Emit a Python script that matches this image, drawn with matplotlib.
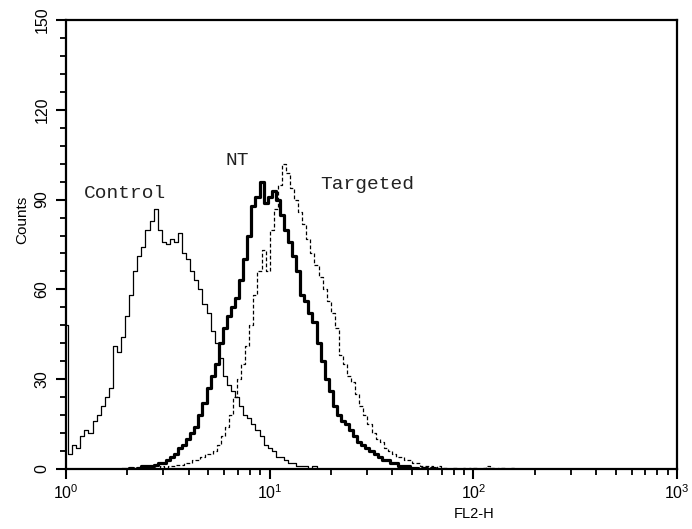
#!/usr/bin/env python3
"""
FACS-Histogramm: Control / NT / Targeted auf FL2-H (log).
"""

import numpy as np
import matplotlib
matplotlib.use('Agg')
import matplotlib.pyplot as plt
from matplotlib.ticker import LogLocator, MultipleLocator

# Kanalraster (log10 von FL2-H), Schrittweite 0.02 Dekaden
channel_step = 0.02

# Control: ab log10 = 0.00
control_start = 0.00
control_counts = [48, 5, 8, 7, 11, 13, 12, 16, 18, 21,
                  24, 27, 41, 39, 44, 51, 58, 66, 71, 74,
                  80, 83, 87, 80, 76, 75, 77, 76, 79, 72,
                  70, 66, 63, 60, 55, 52, 46, 42, 37, 31,
                  28, 26, 24, 21, 18, 17, 15, 13, 11, 8,
                  7, 6, 4, 4, 3, 2, 2, 1, 1, 1,
                  0, 1, 0]

# NT: ab log10 = 0.28
nt_start = 0.28
nt_counts = [0, 0, 0.5, 0, 0.5, 1, 1, 1, 1.5, 2,
             2, 3, 4, 5, 7, 8, 10, 12, 14, 18,
             22, 27, 31, 35, 42, 47, 51, 54, 57, 63,
             70, 78, 88, 91, 96, 89, 91, 93, 90, 85,
             80, 76, 71, 66, 58, 56, 52, 49, 42, 36,
             30, 26, 21, 18, 16, 15, 13, 11, 9, 8,
             7, 6, 5, 4, 3, 3, 2, 2, 1, 1,
             1, 0.5, 0.5, 0, 0.5, 0, 0.5, 0]

# Targeted: ab log10 = 0.41
targeted_start = 0.41
targeted_counts = [0, 0.5, 0, 1, 0.5, 1, 1, 1.5, 1.5, 2,
                   2, 3, 3, 4, 5, 5, 6, 8, 11, 14,
                   18, 24, 30, 35, 41, 48, 58, 66, 73, 66,
                   80, 87, 95, 102, 99, 94, 90, 86, 82, 77,
                   72, 68, 64, 60, 56, 52, 47, 38, 35, 31,
                   29, 25, 21, 18, 15, 12, 10, 9, 7, 6,
                   5, 4, 4, 3, 3, 2, 2, 1, 1, 1,
                   0.5, 1, 0.5, 0.5, 0, 0.5, 0, 0.5, 0, 0.5,
                   0.5, 0, 0.5, 1, 0.5, 0, 0.5, 0.5, 0, 0.5, 0]

y_ticks = [0, 30, 60, 90, 120, 150]

# Beschriftungen (Text, FL2-H, Counts)
labels = [('Control', 1.95, 92), ('NT', 6.9, 103), ('Targeted', 30.0, 95)]


def to_x(start, counts):
    """Kanalpositionen in FL2-H umrechnen."""
    return 10 ** (start + channel_step * np.arange(len(counts)))


fig = plt.figure(figsize=(6.92, 5.29), dpi=100)
ax = fig.add_axes([66 / 692, 60 / 529, 611 / 692, 449 / 529])

ax.step(to_x(control_start, control_counts), control_counts, where='mid',
        color='black', linewidth=0.9)
ax.step(to_x(nt_start, nt_counts), nt_counts, where='mid',
        color='black', linewidth=2.3)
ax.step(to_x(targeted_start, targeted_counts), targeted_counts, where='mid',
        color='black', linewidth=0.9, linestyle=(0, (3, 1.8)))

ax.set_xscale('log')
ax.set_xlim(1, 1000)
ax.set_ylim(0, 150)

ax.set_yticks(y_ticks)
ax.yaxis.set_minor_locator(MultipleLocator(6))
ax.xaxis.set_major_locator(LogLocator(base=10))
ax.xaxis.set_minor_locator(LogLocator(base=10, subs=np.arange(2, 10)))

for side in ax.spines.values():
    side.set_linewidth(1.6)

ax.tick_params(axis='both', which='major', direction='out', length=7,
               width=1.5, labelsize=11.5, pad=3)
ax.tick_params(axis='both', which='minor', direction='out', length=4,
               width=1.3)
ax.tick_params(axis='y', which='major', labelrotation=90, pad=5)
for lab in ax.get_yticklabels():
    lab.set_fontfamily('Liberation Sans')
    lab.set_va('center')
for lab in ax.get_xticklabels():
    lab.set_fontfamily('Liberation Sans')

ax.set_ylabel('Counts', fontsize=11, family='Liberation Sans',
              va='center')
ax.yaxis.set_label_coords(-0.071, 0.555)
ax.set_xlabel('FL2-H', fontsize=10.5, family='Liberation Sans')
ax.xaxis.set_label_coords(0.668, -0.085)

for text, xv, yv in labels:
    ax.text(xv, yv, text, ha='center', va='center', fontsize=14,
            family='Liberation Mono', color='#222222')

fig.savefig('out.png', dpi=100, facecolor='white')
